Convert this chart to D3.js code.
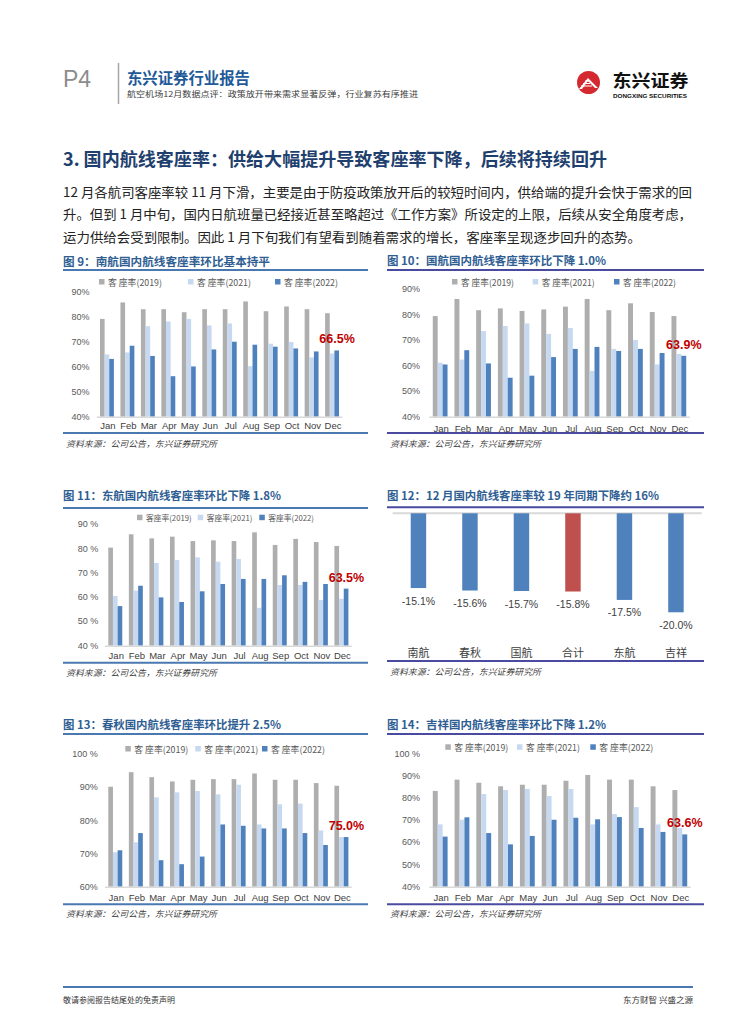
<!DOCTYPE html>
<html><head><meta charset="utf-8">
<script src="https://cdn.jsdelivr.net/npm/d3@7"></script>
<style>body{margin:0;background:#fff}svg{display:block}</style>
</head><body>
<script>
// ---------------- DATA ----------------
const months = ["Jan","Feb","Mar","Apr","May","Jun","Jul","Aug","Sep","Oct","Nov","Dec"];
const legendLabels = ["客座率(2019)","客座率(2021)","客座率(2022)"];
const legendLabelsSpaced = ["客 座率(2019)","客 座率(2021)","客 座率(2022)"];

// 图9 南航
const csair2019 = [79.1,85.7,83.0,83.0,81.8,83.0,83.0,86.1,82.2,84.1,83.0,81.4];
const csair2021 = [64.9,65.7,76.2,78.1,79.1,76.5,77.3,60.2,69.2,69.9,63.7,65.3];
const csair2022 = [63.1,68.4,64.3,56.2,60.1,66.9,70.0,68.8,68.0,67.3,66.1,66.5];
// 图10 国航
const airchina2019 = [79.5,86.2,81.8,82.5,81.5,82.1,83.2,86.2,81.8,84.5,81.1,79.5];
const airchina2021 = [61.2,62.4,73.6,75.6,76.6,72.5,74.8,58.0,66.6,70.1,60.5,64.6];
const airchina2022 = [60.5,66.1,60.9,55.3,56.1,63.4,66.6,67.4,65.8,66.6,65.0,63.9];
// 图11 东航
const ceair2019 = [80.4,85.9,84.2,84.9,83.1,83.4,83.1,86.7,81.5,84.0,82.7,81.1];
const ceair2021 = [60.5,62.7,74.1,75.3,76.4,74.6,75.7,55.6,65.0,65.0,58.8,59.3];
const ceair2022 = [56.3,64.7,59.9,58.0,62.4,65.4,67.5,67.5,69.0,66.3,65.4,63.5];
// 图13 春秋
const spring2019 = [90.2,94.6,93.1,91.8,92.3,92.5,92.5,94.2,92.3,92.3,91.3,90.5];
const spring2021 = [70.4,73.4,87.0,88.5,88.9,87.9,90.8,78.8,84.9,85.1,77.0,75.0];
const spring2022 = [71.0,76.2,68.0,66.8,69.1,78.8,78.4,77.6,77.6,76.2,72.6,75.0];
// 图14 吉祥
const juneyao2019 = [83.2,88.3,86.9,85.3,86.0,86.0,87.8,90.4,88.3,88.3,85.3,83.6];
const juneyao2021 = [68.1,70.2,81.8,83.6,84.1,80.9,84.1,68.1,72.8,75.9,68.1,66.5];
const juneyao2022 = [62.6,71.3,64.2,59.1,62.9,70.2,71.1,70.4,71.4,66.5,64.7,63.6];
// 图12 较19年同期
const yoyAirlines = ["南航","春秋","国航","合计","东航","吉祥"];
const yoyValues = [-15.1,-15.6,-15.7,-15.8,-17.5,-20.0];

// ticks
const ticks40to90 = [40,50,60,70,80,90];
const tickLabels40to90 = ["40%","50%","60%","70%","80%","90%"];
const tickLabels40to90Spaced = ["40 %","50 %","60 %","70 %","80 %","90 %"];
const ticks60to100 = [60,70,80,90,100];
const tickLabels60to100 = ["60%","70%","80%","90%","100 %"];
const ticks40to100 = [40,50,60,70,80,90,100];
const tickLabels40to100 = ["40%","50%","60%","70%","80%","90%","100 %"];

// ---------------- STYLE ----------------
const C_GRAY = "#AEAEAE", C_LIGHT = "#C6D9F0", C_DARK = "#4F81BD";
const seriesColors = [C_GRAY, C_LIGHT, C_DARK];
const LINE_L = "#4A78B0", LINE_R = "#4A4BA0";
const TITLE_C = "#2F5E93";
const CJK = "'Noto Sans CJK SC','Liberation Sans',sans-serif";
const LAT = "'Liberation Sans',Arial,'Noto Sans CJK SC',sans-serif";

const svg = d3.select("body").append("svg").attr("width",755).attr("height",1024);
svg.append("rect").attr("width",755).attr("height",1024).attr("fill","#fff");

function txt(g,x,y,s,o){
  o=o||{};
  const t=g.append("text").attr("x",x).attr("y",y).text(s)
    .attr("font-family",o.family||CJK).attr("font-size",o.size||10)
    .attr("fill",o.fill||"#333").attr("dominant-baseline","central")
    .attr("text-anchor",o.anchor||"start");
  if(o.weight) t.attr("font-weight",o.weight);
  if(o.style) t.attr("font-style",o.style);
  if(o.len){t.attr("textLength",o.len).attr("lengthAdjust","spacingAndGlyphs");}
  return t;
}
const pct = v => v.toFixed(1) + "%";

// ---------------- HEADER ----------------
txt(svg,63,79,"P4",{family:LAT,size:23,fill:"#8C8C8C"});
svg.append("line").attr("x1",118.5).attr("x2",118.5).attr("y1",63).attr("y2",104).attr("stroke","#A6A6A6").attr("stroke-width",1.5);
txt(svg,127,77,"东兴证券行业报告",{size:15.5,weight:"bold",fill:"#1F5A99",len:123});
txt(svg,127,93.5,"航空机场12月数据点评：政策放开带来需求显著反弹，行业复苏有序推进",{size:7.5,fill:"#404040",len:291});
// logo
const lg = svg.append("g");
lg.append("circle").attr("cx",588.5).attr("cy",82.5).attr("r",11.5).attr("fill","#D42A2F");
lg.append("path").attr("d","M579,89 L588,78 L598,88 L595,88 L588,81 L582,89 Z").attr("fill","#fff");
lg.append("path").attr("d","M581,86 L592,86 M583,83.5 L590,83.5 M585,81 L589,81").attr("stroke","#fff").attr("stroke-width",1.1);
txt(svg,612.5,79.5,"东兴证券",{size:17.5,weight:"bold",fill:"#111",len:76});
txt(svg,613,96,"DONGXING SECURITIES",{family:LAT,size:5,weight:"bold",fill:"#111",len:74});

// ---------------- SECTION TITLE & BODY ----------------
txt(svg,63,158,"3. 国内航线客座率：供给大幅提升导致客座率下降，后续将持续回升",{size:18,weight:"bold",fill:"#1F3F6E",len:544});
const bodyLines = [
  "12 月各航司客座率较 11 月下滑，主要是由于防疫政策放开后的较短时间内，供给端的提升会快于需求的回",
  "升。但到 1 月中旬，国内日航班量已经接近甚至略超过《工作方案》所设定的上限，后续从安全角度考虑，",
  "运力供给会受到限制。因此 1 月下旬我们有望看到随着需求的增长，客座率呈现逐步回升的态势。"
];
const bodyLens = [629,629,578];
bodyLines.forEach((l,i)=>txt(svg,63,191+i*22.5,l,{size:13,fill:"#222",len:bodyLens[i]}));

// ---------------- GROUPED BAR CHARTS ----------------
function panelFrame(cfg){
  const g=svg.append("g");
  txt(g,cfg.px0,cfg.titleY,cfg.title,{size:11.5,weight:"bold",fill:TITLE_C,len:cfg.titleLen});
  g.append("line").attr("x1",cfg.px0).attr("x2",cfg.px1).attr("y1",cfg.lineY).attr("y2",cfg.lineY)
    .attr("stroke",cfg.lineColor).attr("stroke-width",2);
  g.append("line").attr("x1",cfg.px0).attr("x2",cfg.px1).attr("y1",cfg.bottomY).attr("y2",cfg.bottomY)
    .attr("stroke",cfg.lineColor).attr("stroke-width",2);
  txt(g,cfg.px0+3,cfg.sourceY,"资料来源：公司公告，东兴证券研究所",{size:8.5,style:"italic",fill:"#404040",len:151});
  return g;
}

function groupedChart(cfg, series, ticks, tickLabels){
  const g=panelFrame(cfg);
  cfg.legendXs.forEach((lx,i)=>{
    g.append("rect").attr("x",lx-3).attr("y",cfg.legendY-3).attr("width",5.5).attr("height",5.5).attr("fill",seriesColors[i]);
    txt(g,lx+6,cfg.legendY,cfg.legend[i],{size:cfg.legendSize,fill:"#595959",len:cfg.legendLen});
  });
  const x=d3.scaleBand().domain(months).range([cfg.x0,cfg.x1]).paddingInner(0.32).paddingOuter(0.16);
  const xs=d3.scaleBand().domain([0,1,2]).range([0,x.bandwidth()]);
  const y=d3.scaleLinear().domain([ticks[0],ticks[ticks.length-1]]).range([cfg.yBottom,cfg.yTop]);
  ticks.forEach((t,i)=>txt(g,cfg.tickX,y(t),tickLabels[i],{family:LAT,size:9,fill:"#595959",anchor:"end"}));
  series.forEach((s,si)=>{
    g.selectAll(null).data(s).enter().append("rect")
      .attr("x",(d,i)=>x(months[i])+xs(si)).attr("width",xs.bandwidth())
      .attr("y",d=>y(d)).attr("height",d=>y(ticks[0])-y(d)).attr("fill",seriesColors[si]);
  });
  g.append("line").attr("x1",cfg.x0).attr("x2",cfg.x1).attr("y1",cfg.yBottom+0.5).attr("y2",cfg.yBottom+0.5)
    .attr("stroke","#D9D9D9").attr("stroke-width",1.5);
  months.forEach(m=>txt(g,x(m)+x.bandwidth()/2+1,cfg.monthY,m,{family:LAT,size:9.5,fill:"#404040",anchor:"middle"}));
  const last=series[2][11];
  txt(g,x("Dec")+x.bandwidth()/2+5,y(last)-11,pct(last),{family:LAT,size:12.5,weight:"bold",fill:"#C00000",anchor:"middle"});
}

const LX0=63, LX1=368, RX0=387, RX1=704;

groupedChart({px0:LX0,px1:LX1,lineColor:LINE_L,title:"图 9：南航国内航线客座率环比基本持平",titleLen:207,titleY:261,lineY:270,
  legendY:282,legendXs:[102,191,278],legend:legendLabelsSpaced,legendSize:9,legendLen:54,
  x0:96.7,x1:342.3,yTop:291.7,yBottom:416.7,tickX:89.5,monthY:425.7,bottomY:433,sourceY:443},
  [csair2019,csair2021,csair2022],ticks40to90,tickLabels40to90);

groupedChart({px0:RX0,px1:RX1,lineColor:LINE_R,title:"图 10：国航国内航线客座率环比下降 1.0%",titleLen:219,titleY:260,lineY:270,
  legendY:282,legendXs:[455,535.7,617],legend:legendLabelsSpaced,legendSize:9,legendLen:53,
  x0:429.3,x1:689.7,yTop:289.3,yBottom:416.7,tickX:420,monthY:428.3,bottomY:433,sourceY:442.7},
  [airchina2019,airchina2021,airchina2022],ticks40to90,tickLabels40to90);

groupedChart({px0:LX0,px1:LX1,lineColor:LINE_L,title:"图 11：东航国内航线客座率环比下降 1.8%",titleLen:218,titleY:495,lineY:508,
  legendY:517.7,legendXs:[140,200.7,262.3],legend:legendLabels,legendSize:8,legendLen:45.7,
  x0:105,x1:351.7,yTop:524.3,yBottom:645.7,tickX:98.3,monthY:655,bottomY:662.7,sourceY:671.7},
  [ceair2019,ceair2021,ceair2022],ticks40to90,tickLabels40to90Spaced);

groupedChart({px0:LX0,px1:LX1,lineColor:LINE_L,title:"图 13：春秋国内航线客座率环比提升 2.5%",titleLen:218,titleY:724,lineY:734,
  legendY:749,legendXs:[128.3,198.3,265],legend:legendLabelsSpaced,legendSize:9,legendLen:54,
  x0:105,x1:351.7,yTop:754.3,yBottom:886.7,tickX:97.7,monthY:897.7,bottomY:904.3,sourceY:913.3},
  [spring2019,spring2021,spring2022],ticks60to100,tickLabels60to100);

groupedChart({px0:RX0,px1:RX1,lineColor:LINE_R,title:"图 14：吉祥国内航线客座率环比下降 1.2%",titleLen:219,titleY:724,lineY:734,
  legendY:747.3,legendXs:[448.3,520,593.3],legend:legendLabelsSpaced,legendSize:9,legendLen:54,
  x0:429.3,x1:690.7,yTop:753.7,yBottom:886.7,tickX:420,monthY:897.7,bottomY:904.3,sourceY:913.3},
  [juneyao2019,juneyao2021,juneyao2022],ticks40to100,tickLabels40to100);

// ---------------- 图12 ----------------
(function(){
  const cfg={px0:RX0,px1:RX1,lineColor:LINE_R,title:"图 12：12 月国内航线客座率较 19 年同期下降约 16%",titleLen:272,titleY:495,lineY:507.3,
    bottomY:661,sourceY:671};
  const g=panelFrame(cfg);
  const x=d3.scaleBand().domain(yoyAirlines).range([392.7,701.7]).paddingInner(0.7).paddingOuter(0.35);
  const y=d3.scaleLinear().domain([0,-20]).range([513.3,612.3]);
  g.append("line").attr("x1",392.7).attr("x2",701.7).attr("y1",y(0)).attr("y2",y(0)).attr("stroke","#D9D9D9").attr("stroke-width",2);
  g.selectAll(null).data(yoyValues).enter().append("rect")
    .attr("x",(d,i)=>x(yoyAirlines[i])).attr("width",x.bandwidth())
    .attr("y",y(0)).attr("height",d=>y(d)-y(0))
    .attr("fill",(d,i)=>yoyAirlines[i]==="合计"?"#C0504D":"#4F81BD");
  yoyValues.forEach((v,i)=>{
    txt(g,x(yoyAirlines[i])+x.bandwidth()/2,y(v)+12.5,pct(v),{family:LAT,size:10.5,fill:"#404040",anchor:"middle"});
    txt(g,x(yoyAirlines[i])+x.bandwidth()/2,651.7,yoyAirlines[i],{size:11,fill:"#404040",anchor:"middle"});
  });
})();

// ---------------- FOOTER ----------------
svg.append("line").attr("x1",63).attr("x2",693).attr("y1",987).attr("y2",987).attr("stroke","#4A78B0").attr("stroke-width",2);
txt(svg,63,999,"敬请参阅报告结尾处的免责声明",{size:7.5,fill:"#333",len:112});
txt(svg,693,999,"东方财智 兴盛之源",{size:7.5,fill:"#333",anchor:"end",len:70});
</script>
</body></html>
